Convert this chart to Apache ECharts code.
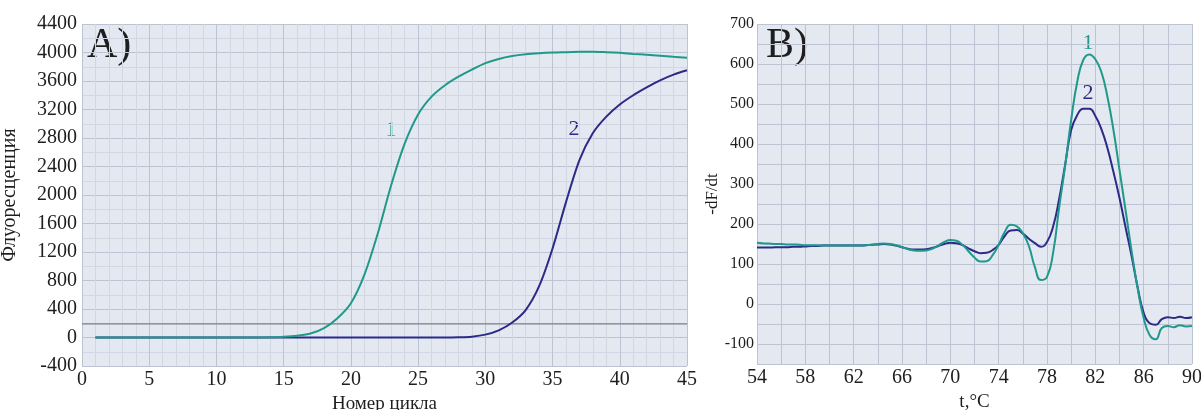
<!DOCTYPE html>
<html>
<head>
<meta charset="utf-8">
<script src="https://cdn.jsdelivr.net/npm/echarts@6/dist/echarts.min.js"></script>
<style>
html,body{margin:0;padding:0;background:#fff;}
#c{width:1201px;height:410px;}
</style>
</head>
<body>
<div id="c"></div>
<script>
// ---- Panel A: amplification curves ----
const cyclesA = [1,2,3,4,5,6,7,8,9,10,11,12,13,14,15,16,17,18,19,20,21,22,23,24,25,26,27,28,29,30,31,32,33,34,35,36,37,38,39,40,41,42,43,44,45];
const curveA1 = [0,0,0,0,0,0,0,0,0,0,0,0,0,3,10,25,55,130,270,480,880,1460,2140,2720,3130,3380,3540,3660,3760,3850,3910,3950,3975,3990,4000,4005,4010,4012,4005,3995,3980,3968,3955,3940,3927];
const curveA2 = [0,0,0,0,0,0,0,0,0,0,0,0,0,0,0,0,0,0,0,0,0,0,0,0,0,0,0,3,12,40,100,210,385,720,1250,1900,2490,2870,3100,3270,3400,3510,3610,3690,3750];
const thresholdA = 190;
const yTicksA = [-400, 4400, 400];   // min, max, step
const xTicksA = [0, 45, 5];

// ---- Panel B: melting curves ----
const tempB = [54,54.5,55,55.5,56,56.5,57,57.5,58,58.5,59,59.5,60,60.5,61,61.5,62,62.5,63,63.5,64,64.5,65,65.5,66,66.5,67,67.5,68,68.5,69,69.5,70,70.5,71,71.5,72,72.5,73,73.5,74,74.5,75,75.5,76,76.5,77,77.5,78,78.5,79,79.5,80,80.5,81,81.5,82,82.5,83,83.5,84,84.5,85,85.5,86,86.5,87,87.5,88,88.5,89,89.5,90];
const curveB1 = [153,152,151,150,150,149,149,148,147,147,147,146,146,146,146,146,146,146,147,148,150,151,150,147,142,137,134,133,134,138,146,155,160,158,148,132,116,106,107,122,148,180,198,194,177,145,92,60,68,127,240,345,460,555,610,624,612,580,518,435,335,235,133,40,-35,-78,-88,-60,-55,-58,-53,-56,-55];
const curveB2 = [141,141,141,142,142,142,143,143,144,145,145,146,146,146,146,146,146,146,147,148,149,150,149,146,142,138,136,136,137,140,145,150,153,152,147,139,132,127,128,135,148,170,184,185,176,163,152,143,155,193,262,348,435,472,488,488,470,437,390,330,265,192,120,42,-22,-48,-52,-38,-33,-35,-32,-35,-33];
const yTicksB = [-150, 700, 50];
const xTicksB = [54, 90, 2];

const TEAL = '#21998a';
const NAVY = '#2b2a86';
const FONT = 'Liberation Serif';
const BG = '#e3e8f1';
const MAJOR = '#bcc4d4';
const MINOR = '#d1d8e4';
const INK = '#1e1e1e';

const zip = (xs, ys) => xs.map((x, i) => [x, ys[i]]);

const chart = echarts.init(document.getElementById('c'), null, {renderer: 'canvas'});

chart.setOption({
  animation: false,
  textStyle: {fontFamily: FONT},
  grid: [
    {left: 82, top: 24, width: 605, height: 342, show: true, backgroundColor: BG, borderWidth: 0,
     containLabel: false, outerBoundsMode: 'none'},
    {left: 757, top: 24, width: 435, height: 340, show: true, backgroundColor: BG, borderWidth: 0,
     containLabel: false, outerBoundsMode: 'none'}
  ],
  xAxis: [
    {
      gridIndex: 0, type: 'value', min: xTicksA[0], max: xTicksA[1], interval: xTicksA[2],
      name: 'Номер цикла', nameLocation: 'middle', nameGap: 29,
      nameTextStyle: {fontFamily: FONT, fontSize: 19, color: INK},
      axisLine: {show: false}, axisTick: {show: false},
      axisLabel: {margin: 4, formatter: v => String(v), fontFamily: FONT, fontSize: 20, color: INK},
      splitLine: {show: true, lineStyle: {color: MAJOR, width: 1}},
      minorTick: {show: false, splitNumber: 5},
      minorSplitLine: {show: true, lineStyle: {color: MINOR, width: 1}}
    },
    {
      gridIndex: 1, type: 'value', min: xTicksB[0], max: xTicksB[1], interval: xTicksB[2],
      name: 't,°C', nameLocation: 'middle', nameGap: 29,
      nameTextStyle: {fontFamily: FONT, fontSize: 19, color: INK},
      axisLine: {show: false}, axisTick: {show: false},
      axisLabel: {margin: 4, showMinLabel: true, showMaxLabel: true,
        formatter: v => ((v - xTicksB[0]) % 4 === 0 ? String(v) : ''),
        fontFamily: FONT, fontSize: 20, color: INK},
      splitLine: {show: true, lineStyle: {color: MAJOR, width: 1}}
    }
  ],
  yAxis: [
    {
      gridIndex: 0, type: 'value', min: yTicksA[0], max: yTicksA[1], interval: yTicksA[2],
      name: 'Флуоресценция', nameLocation: 'middle', nameGap: 62,
      nameTextStyle: {fontFamily: FONT, fontSize: 20, color: INK},
      axisLine: {show: false}, axisTick: {show: false},
      axisLabel: {margin: 5, formatter: v => String(v), fontFamily: FONT, fontSize: 20, color: INK},
      splitLine: {show: true, lineStyle: {color: MAJOR, width: 1}},
      minorTick: {show: false, splitNumber: 2},
      minorSplitLine: {show: true, lineStyle: {color: MINOR, width: 1}}
    },
    {
      gridIndex: 1, type: 'value', min: yTicksB[0], max: yTicksB[1], interval: yTicksB[2],
      name: '-dF/dt', nameLocation: 'middle', nameGap: 35,
      nameTextStyle: {fontFamily: FONT, fontSize: 17, color: INK},
      axisLine: {show: false}, axisTick: {show: false},
      axisLabel: {margin: 3, formatter: v => (v % 100 === 0 ? String(v) : ''),
        fontFamily: FONT, fontSize: 16, color: INK},
      splitLine: {show: true, lineStyle: {color: MAJOR, width: 1}}
    }
  ],
  series: [
    {
      type: 'line', xAxisIndex: 0, yAxisIndex: 0, silent: true, symbol: 'none', z: 1,
      data: [[xTicksA[0], thresholdA], [xTicksA[1], thresholdA]],
      lineStyle: {color: '#7d7f86', width: 1.2}
    },
    {
      type: 'line', xAxisIndex: 0, yAxisIndex: 0, symbol: 'none', smooth: 0.3, z: 2,
      data: zip(cyclesA, curveA2), lineStyle: {color: NAVY, width: 2}
    },
    {
      type: 'line', xAxisIndex: 0, yAxisIndex: 0, symbol: 'none', smooth: 0.3, z: 3,
      data: zip(cyclesA, curveA1), lineStyle: {color: TEAL, width: 2}
    },
    {
      type: 'line', xAxisIndex: 1, yAxisIndex: 1, symbol: 'none', smooth: 0.5, z: 2,
      data: zip(tempB, curveB2), lineStyle: {color: NAVY, width: 2}
    },
    {
      type: 'line', xAxisIndex: 1, yAxisIndex: 1, symbol: 'none', smooth: 0.5, z: 3,
      data: zip(tempB, curveB1), lineStyle: {color: TEAL, width: 2}
    }
  ],
  graphic: [
    {type: 'text', left: 87, top: 25, style: {text: 'A)', font: '42px "Liberation Serif"', fill: INK}},
    {type: 'text', left: 766, top: 25, style: {text: 'B)', font: '42px "Liberation Serif"', fill: INK}},
    {type: 'text', x: 391, y: 130, style: {text: '1', font: '22px "Liberation Serif"', fill: TEAL, align: 'center', verticalAlign: 'middle'}},
    {type: 'text', x: 574, y: 129, style: {text: '2', font: '22px "Liberation Serif"', fill: NAVY, align: 'center', verticalAlign: 'middle'}},
    {type: 'text', x: 1088, y: 43, style: {text: '1', font: '22px "Liberation Serif"', fill: TEAL, align: 'center', verticalAlign: 'middle'}},
    {type: 'text', x: 1088, y: 93, style: {text: '2', font: '22px "Liberation Serif"', fill: NAVY, align: 'center', verticalAlign: 'middle'}}
  ]
});
</script>
</body>
</html>
